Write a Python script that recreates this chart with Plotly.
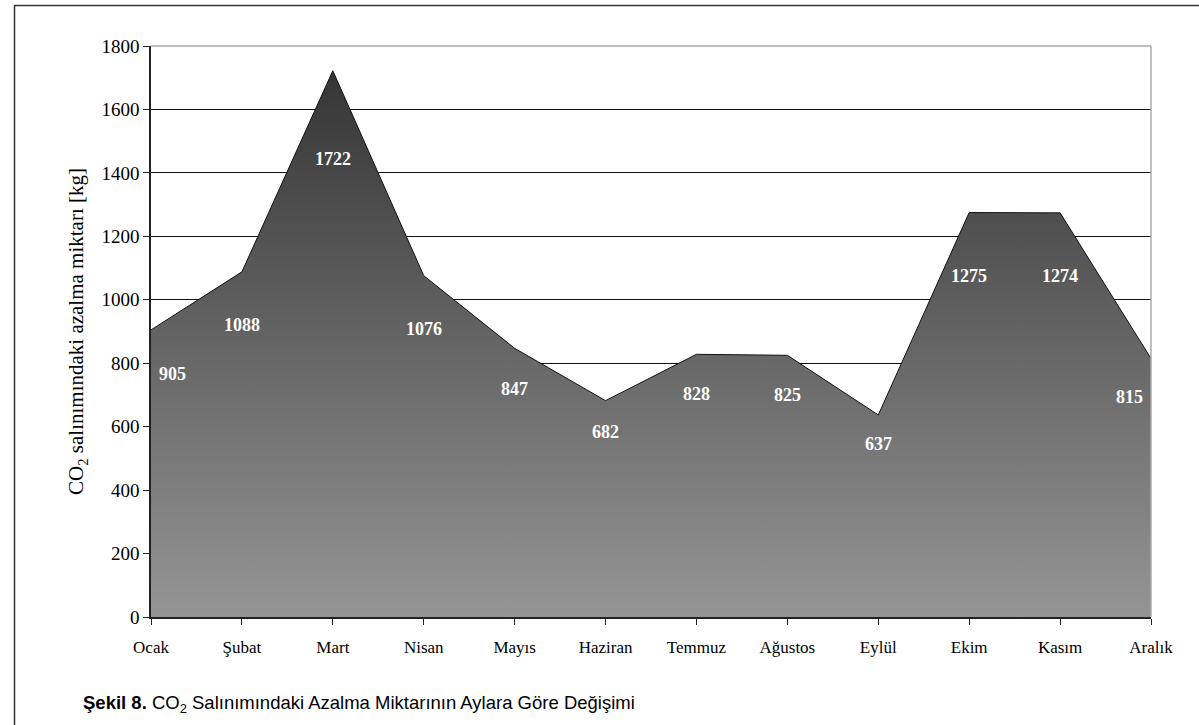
import plotly.graph_objects as go

months = ["Ocak", "Şubat", "Mart", "Nisan", "Mayıs", "Haziran", "Temmuz",
          "Ağustos", "Eylül", "Ekim", "Kasım", "Aralık"]
values = [905, 1088, 1722, 1076, 847, 682, 828, 825, 637, 1275, 1274, 815]
y_ticks = [0, 200, 400, 600, 800, 1000, 1200, 1400, 1600, 1800]

W, H = 1199, 725
L, R, T, B = 151, 48, 46, 108
pw, ph = W - L - R, H - T - B

serif = "Liberation Serif, Times New Roman, serif"

fig = go.Figure()
fig.add_trace(go.Scatter(
    x=list(range(len(months))), y=values, mode="lines",
    line=dict(color="#111111", width=1),
    fill="tozeroy",
    fillgradient=dict(type="vertical", start=0, stop=max(values),
                      colorscale=[[0, "#959595"], [1, "#353535"]]),
    hoverinfo="skip", showlegend=False,
))

annotations = []
n = len(months)
for i, v in enumerate(values):
    if i == 0:
        xa, xs = "left", 6
    elif i == n - 1:
        xa, xs = "right", -6
    else:
        xa, xs = "center", 0
    annotations.append(dict(
        x=i, y=v * 0.83 + 16, xref="x", yref="y", text=f"<b>{v}</b>",
        showarrow=False, xanchor=xa, xshift=xs,
        font=dict(family=serif, size=18, color="white"),
    ))

def px2paper_x(px):
    return (px - L) / pw

def px2paper_y(py):
    return (H - B - py) / ph

annotations.append(dict(
    x=px2paper_x(81), y=px2paper_y(704), xref="paper", yref="paper",
    xanchor="left", yanchor="middle", showarrow=False,
    text="<b>Şekil 8.</b> CO<sub>2</sub> Salınımındaki Azalma Miktarının Aylara Göre Değişimi",
    font=dict(family="Liberation Sans, Arial, sans-serif", size=18.5, color="black"),
))

shapes = [
    # outer frame: top and left
    dict(type="line", xref="paper", yref="paper",
         x0=px2paper_x(14), x1=px2paper_x(1205), y0=px2paper_y(5.5), y1=px2paper_y(5.5),
         line=dict(color="#333333", width=1.5)),
    dict(type="line", xref="paper", yref="paper",
         x0=px2paper_x(14.5), x1=px2paper_x(14.5), y0=px2paper_y(5), y1=px2paper_y(730),
         line=dict(color="#333333", width=1.5)),
    # plot area top and right border (gray)
    dict(type="line", xref="paper", yref="paper", x0=0, x1=1, y0=1, y1=1,
         line=dict(color="#aaaaaa", width=1.5)),
    dict(type="line", xref="paper", yref="paper", x0=1, x1=1, y0=0, y1=1,
         line=dict(color="#aaaaaa", width=1.5)),
]

fig.update_layout(
    width=W, height=H,
    margin=dict(l=L, r=R, t=T, b=B),
    paper_bgcolor="white", plot_bgcolor="white",
    annotations=annotations, shapes=shapes,
    xaxis=dict(
        range=[0, n - 1], tickmode="array", tickvals=list(range(n)), ticktext=months,
        showgrid=False, zeroline=False,
        showline=True, linecolor="#222222", linewidth=1.5,
        ticks="outside", ticklen=6, tickcolor="#222222",
        ticklabelstandoff=8,
        tickfont=dict(family=serif, size=17, color="black"),
    ),
    yaxis=dict(
        range=[0, 1800], tickmode="array", tickvals=y_ticks,
        showgrid=True, gridcolor="#111111", gridwidth=1, zeroline=False,
        showline=True, linecolor="#222222", linewidth=1.5,
        ticks="outside", ticklen=6, tickcolor="#222222",
        tickfont=dict(family=serif, size=19, color="black"),
        title=dict(text="CO<sub>2</sub> salınımındaki azalma miktarı [kg]",
                   font=dict(family=serif, size=21, color="black"), standoff=12),
        layer="below traces",
    ),
)

fig.write_html("out.html")
